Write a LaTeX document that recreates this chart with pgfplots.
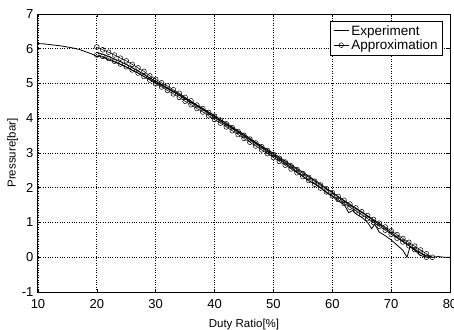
\documentclass[border=0pt]{standalone}
\usepackage{fontspec}
\setmainfont{Liberation Sans}
\usepackage{pgfplots}
\pgfplotsset{compat=1.18}
\begin{document}
\begin{tikzpicture}
\path[use as bounding box] (-38pt,-37pt) rectangle (416pt,292pt);
\begin{axis}[
  at={(0pt,0pt)}, anchor=south west,
  scale only axis, width=412pt, height=278pt,
  xmin=10, xmax=80, ymin=-1, ymax=7,
  xtick={10,20,...,80}, ytick={-1,0,...,7},
  grid=major, major grid style={black, dotted, line width=0.8pt},
  axis line style={black, line width=1pt},
  tick align=inside, tick style={black, line width=0.6pt}, major tick length=3pt,
  /pgf/number format/assume math mode=true,
  ticklabel style={font=\fontsize{13}{13}\selectfont},
  xticklabel style={yshift=-4pt},
  yticklabel style={xshift=-1pt},
  xlabel={Duty Ratio[\%]}, ylabel={Pressure[bar]},
  label style={font=\fontsize{11.5}{11.5}\selectfont},
  xlabel style={yshift=-4pt}, ylabel style={yshift=-3pt},
  legend style={at={(rel axis cs:0.983,0.975)}, anchor=north east, draw=black, line width=0.6pt,
    font=\fontsize{13.5}{13.5}\selectfont, inner xsep=3pt, inner ysep=2pt, row sep=-1pt, cells={anchor=west}},
  legend image post style={xscale=0.9},
  legend cell align=left,
]
\addplot[black, line width=0.8pt] coordinates {
(10,6.15)(11,6.14)(12,6.12)(13,6.10)(14,6.08)(15,6.05)(16,6.02)(17,5.98)(18,5.92)(19,5.86)(20,5.78)(21,5.76)(22,5.68)(23,5.62)(24,5.55)(25,5.47)(26,5.38)(27,5.30)(28,5.20)(29,5.12)(30,5.02)(31,4.94)(32,4.85)(33,4.76)(34,4.66)(35,4.56)(36,4.45)(37,4.36)(38,4.25)(39,4.14)(40,4.02)(41,3.92)(42,3.80)(43,3.71)(44,3.60)(45,3.49)(46,3.38)(47,3.27)(48,3.15)(49,3.04)(50,2.92)(51,2.82)(52,2.70)(53,2.58)(54,2.45)(55,2.33)(56,2.20)(57,2.12)(58,2.00)(59,1.86)(60,1.75)(61,1.62)(62,1.52)(62.8,1.28)(63.5,1.35)(64,1.25)(65,1.15)(66,1.00)(66.7,0.82)(67.2,0.95)(68,0.72)(69,0.62)(70,0.50)(71,0.35)(72,0.20)(72.7,0.00)(73.2,0.30)(74,0.20)(75,0.05)(76,0.00)(77,0.00)(78,0.02)(79,0.00)(80,0.00)
};
\addlegendentry{Experiment}
\addplot[black, line width=0.5pt, mark=o, mark size=2.4pt, mark options={solid, line width=0.5pt}] coordinates {
(20,6.05)(21,5.97)(22,5.90)(23,5.82)(24,5.73)(25,5.65)(26,5.55)(27,5.45)(28,5.35)(29,5.22)(30,5.12)(31,5.02)(32,4.93)(33,4.82)(34,4.72)(35,4.60)(36,4.50)(37,4.38)(38,4.28)(39,4.17)(40,4.06)(41,3.95)(42,3.84)(43,3.73)(44,3.62)(45,3.51)(46,3.40)(47,3.29)(48,3.18)(49,3.07)(50,2.96)(51,2.85)(52,2.74)(53,2.63)(54,2.52)(55,2.41)(56,2.30)(57,2.19)(58,2.08)(59,1.97)(60,1.86)(61,1.75)(62,1.64)(63,1.53)(64,1.42)(65,1.31)(66,1.20)(67,1.09)(68,0.98)(69,0.87)(70,0.76)(71,0.65)(72,0.54)(73,0.43)(74,0.32)(75,0.21)(76,0.10)(77,0.00)
};
\addlegendentry{Approximation}
\addplot[black, line width=0.8pt, forget plot] coordinates {
(20,5.90)(21,5.84)(22,5.78)(23,5.70)(24,5.63)(25,5.55)(26,5.45)(27,5.36)(28,5.26)(29,5.16)(30,5.06)(31,4.97)(32,4.88)(33,4.78)(34,4.69)(35,4.58)(36,4.48)(37,4.38)(38,4.28)(39,4.18)(40,4.08)(41,3.96)(42,3.86)(43,3.75)(44,3.64)(45,3.54)(46,3.42)(47,3.31)(48,3.20)(49,3.10)(50,2.99)(51,2.88)(52,2.77)(53,2.66)(54,2.55)(55,2.45)(56,2.33)(57,2.22)(58,2.11)(59,1.98)(60,1.87)(61,1.74)(62,1.62)(63,1.50)(64,1.40)(65,1.30)(66,1.18)(67,1.06)(68,0.95)(69,0.83)(70,0.70)(71,0.58)(72,0.46)(73,0.34)(74,0.23)(75,0.12)(76,0.04)(77,0.00)
};
\addplot[black, line width=0.5pt, mark=o, mark size=2.4pt, forget plot] coordinates {
(20,5.82)(21,5.78)(22,5.72)(23,5.64)(24,5.56)(25,5.48)(26,5.39)(27,5.30)(28,5.20)(29,5.10)(30,4.99)(31,4.90)(32,4.80)(33,4.70)(34,4.60)(35,4.49)(36,4.39)(37,4.28)(38,4.18)(39,4.07)(40,3.96)(41,3.86)(42,3.75)(43,3.64)(44,3.53)(45,3.42)(46,3.31)(47,3.20)(48,3.09)(49,2.98)(50,2.87)(51,2.76)(52,2.65)(53,2.54)(54,2.43)(55,2.32)(56,2.21)(57,2.10)(58,1.99)(59,1.88)(60,1.77)(61,1.66)(62,1.55)(63,1.44)(64,1.33)(65,1.22)(66,1.11)(67,1.00)(68,0.89)(69,0.78)(70,0.66)(71,0.55)(72,0.44)(73,0.33)(74,0.22)(75,0.12)(76,0.00)
};
\end{axis}
\end{tikzpicture}
\end{document}
